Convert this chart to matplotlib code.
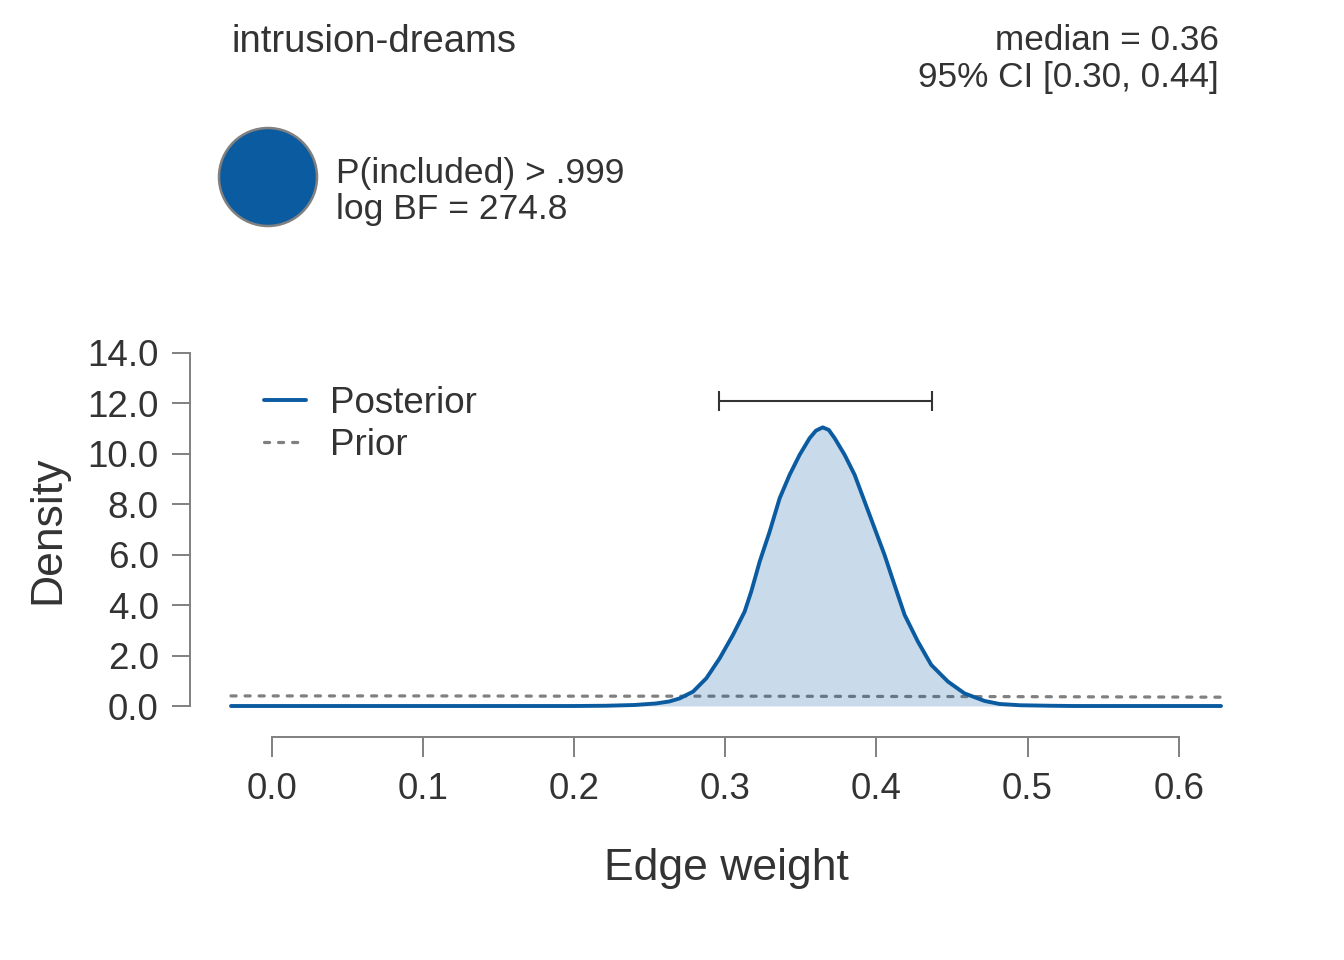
import matplotlib
matplotlib.use("Agg")
import matplotlib.pyplot as plt
from matplotlib.patches import Circle

plt.rcParams['font.family'] = ['Liberation Sans', 'DejaVu Sans']

# ---- data ----
edge_label = "intrusion-dreams"
median_txt = "median = 0.36"
ci_txt = "95% CI [0.30, 0.44]"
incl_txt = "P(included) > .999"
bf_txt = "log BF = 274.8"

post_x = [-0.027, 0.200, 0.221, 0.240, 0.254, 0.263, 0.2698, 0.2787, 0.2875, 0.2963,
          0.3051, 0.3128, 0.3172, 0.3228, 0.3294, 0.3360, 0.3426, 0.3492, 0.3558, 0.3600,
          0.3645, 0.3685, 0.3724, 0.3790, 0.3856, 0.3922, 0.3988, 0.4054, 0.4120, 0.4187,
          0.4275, 0.4363, 0.4473, 0.4583, 0.4716, 0.4815, 0.495, 0.515, 0.530, 0.628]
post_y = [0.0, 0.0, 0.01, 0.04, 0.10, 0.18, 0.30, 0.57, 1.10, 1.89,
          2.82, 3.74, 4.54, 5.73, 6.92, 8.24, 9.17, 9.96, 10.62, 10.92,
          11.05, 10.95, 10.62, 9.96, 9.17, 8.11, 7.05, 5.99, 4.80, 3.61,
          2.55, 1.63, 0.97, 0.50, 0.20, 0.08, 0.03, 0.01, 0.0, 0.0]

prior_x = [-0.027, 0.1, 0.2, 0.3, 0.4, 0.5, 0.628]
prior_y = [0.40, 0.40, 0.39, 0.39, 0.38, 0.37, 0.35]

ci_low, ci_high, ci_height = 0.296, 0.437, 12.1
x_ticks = [0.0, 0.1, 0.2, 0.3, 0.4, 0.5, 0.6]
y_ticks = [0, 2, 4, 6, 8, 10, 12, 14]

blue = '#0b5ba1'
grey = '#808080'
txt = '#333333'

fig = plt.figure(figsize=(13.44, 9.6), dpi=100)
ax = fig.add_axes([231 / 1344, 1 - 706 / 960, 990 / 1344, 353 / 960])

ax.plot(prior_x, prior_y, color=grey, lw=2.3, linestyle=(0, (1.6, 2.8)),
        dash_capstyle='round', clip_on=False, zorder=2, label='Prior')
ax.fill_between(post_x, post_y, 0, color=blue, alpha=0.22, lw=0, zorder=3)
ax.plot(post_x, post_y, color=blue, lw=2.8, clip_on=False, zorder=4,
        solid_joinstyle='round', solid_capstyle='round', label='Posterior')

# credible interval bar
ax.errorbar([(ci_low + ci_high) / 2], [ci_height],
            xerr=[[(ci_high - ci_low) / 2], [(ci_high - ci_low) / 2]],
            fmt='none', ecolor=txt, elinewidth=1.5, capsize=7, capthick=1.5,
            clip_on=False)

ax.set_xlim(post_x[0], post_x[-1])
ax.set_ylim(0, 14)

for s in ['top', 'right']:
    ax.spines[s].set_visible(False)
ax.spines['left'].set_position(('outward', 29.5))
ax.spines['bottom'].set_position(('outward', 22.3))
ax.spines['left'].set_bounds(0, 14)
ax.spines['bottom'].set_bounds(0, 0.6)
for s in ['left', 'bottom']:
    ax.spines[s].set_color(grey)
    ax.spines[s].set_linewidth(1.4)

ax.set_xticks(x_ticks)
ax.set_xticklabels([f'{v:.1f}' for v in x_ticks])
ax.set_yticks(y_ticks)
ax.set_yticklabels([f'{v:.1f}' for v in y_ticks])
ax.tick_params(axis='y', length=13, width=1.4, color=grey, labelsize=26.5,
               labelcolor=txt, pad=9.5)
ax.tick_params(axis='x', length=14.4, width=1.4, color=grey, labelsize=26.5,
               labelcolor=txt, pad=11)

ax.set_xlabel('Edge weight', fontsize=32, color=txt, labelpad=29.5)
ax.set_ylabel('Density', fontsize=32, color=txt, labelpad=14)

handles, labels = ax.get_legend_handles_labels()
leg = ax.legend(handles[::-1], labels[::-1], loc='upper left',
                bbox_to_anchor=(0.0, 1.0), frameon=False, fontsize=26.5,
                handlelength=1.14, handletextpad=0.66, labelspacing=0.18)
for t in leg.get_texts():
    t.set_color(txt)

# header
fig.text(231 / 1344, 1 - 42 / 960, edge_label, fontsize=27.5, color=txt,
         ha='left', va='center')
fig.text(1219 / 1344, 1 - 41 / 960, median_txt, fontsize=25.3, color=txt,
         ha='right', va='center')
fig.text(1219 / 1344, 1 - 78 / 960, ci_txt, fontsize=25.3, color=txt,
         ha='right', va='center')

circ = Circle((2.68, (960 - 177) / 100), 0.49, transform=fig.dpi_scale_trans,
              facecolor=blue, edgecolor=grey, lw=1.8)
fig.add_artist(circ)
fig.text(336 / 1344, 1 - 173 / 960, incl_txt, fontsize=25.5, color=txt,
         ha='left', va='center')
fig.text(336 / 1344, 1 - 209 / 960, bf_txt, fontsize=25.5, color=txt,
         ha='left', va='center')

fig.savefig('out.png', dpi=100, facecolor='white')
